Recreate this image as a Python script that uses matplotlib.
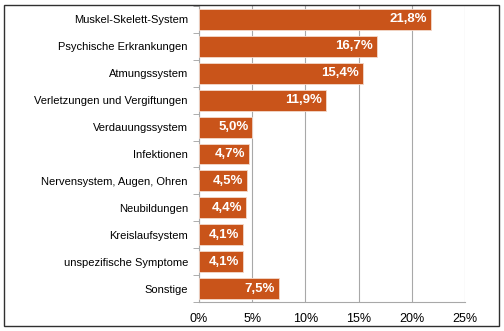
import numpy as np
import matplotlib.pyplot as plt
from matplotlib.patches import Rectangle
from matplotlib.ticker import FuncFormatter

plt.rcParams['font.family'] = ['Liberation Sans', 'DejaVu Sans']

kategorien = ['Muskel-Skelett-System', 'Psychische Erkrankungen', 'Atmungssystem',
              'Verletzungen und Vergiftungen', 'Verdauungssystem', 'Infektionen',
              'Nervensystem, Augen, Ohren', 'Neubildungen', 'Kreislaufsystem',
              'unspezifische Symptome', 'Sonstige']
anteile = [21.8, 16.7, 15.4, 11.9, 5.0, 4.7, 4.5, 4.4, 4.1, 4.1, 7.5]
xticks = [0, 5, 10, 15, 20, 25]

fig = plt.figure(figsize=(5.04, 3.31), dpi=100)
ax = fig.add_axes([199/504, 1-302/331, (465-199)/504, (302-6)/331])

y = np.arange(len(kategorien))
ax.barh(y, anteile, height=0.78, color='#C9541A', edgecolor='#F3D9CB', linewidth=0.6, zorder=3)

for yi, v in zip(y, anteile):
    ax.text(v - 0.35, yi, f'{v:.1f}%'.replace('.', ','), ha='right', va='center',
            color='white', fontweight='bold', fontsize=9.5, zorder=4)

ax.set_yticks(y)
ax.set_yticklabels(kategorien, fontsize=8)
# Teilstriche zwischen den Kategorien
ax.set_yticks(np.arange(len(kategorien) + 1) - 0.5, minor=True)
ax.set_ylim(len(kategorien) - 0.5, -0.5)
ax.set_xlim(0, 25)
ax.set_xticks(xticks)
ax.xaxis.set_major_formatter(FuncFormatter(lambda v, p: f'{v:.0f}%'))
ax.tick_params(axis='x', length=0, labelsize=9, pad=8)
ax.tick_params(axis='y', which='major', length=0, pad=8)
ax.tick_params(axis='y', which='minor', length=4, color='#A0A0A0')
ax.grid(axis='x', color='#A8A8A8', linewidth=0.8, zorder=0)

for s in ['top', 'right']:
    ax.spines[s].set_visible(False)
for s in ['left', 'bottom']:
    ax.spines[s].set_color('#A8A8A8')
    ax.spines[s].set_linewidth(0.8)

# Rahmen um die ganze Grafik
fig.patches.append(Rectangle((4/504, 5/331), 495/504, 321/331, transform=fig.transFigure,
                             fill=False, edgecolor='#303030', linewidth=1.0))

fig.savefig('out.png', dpi=100)
